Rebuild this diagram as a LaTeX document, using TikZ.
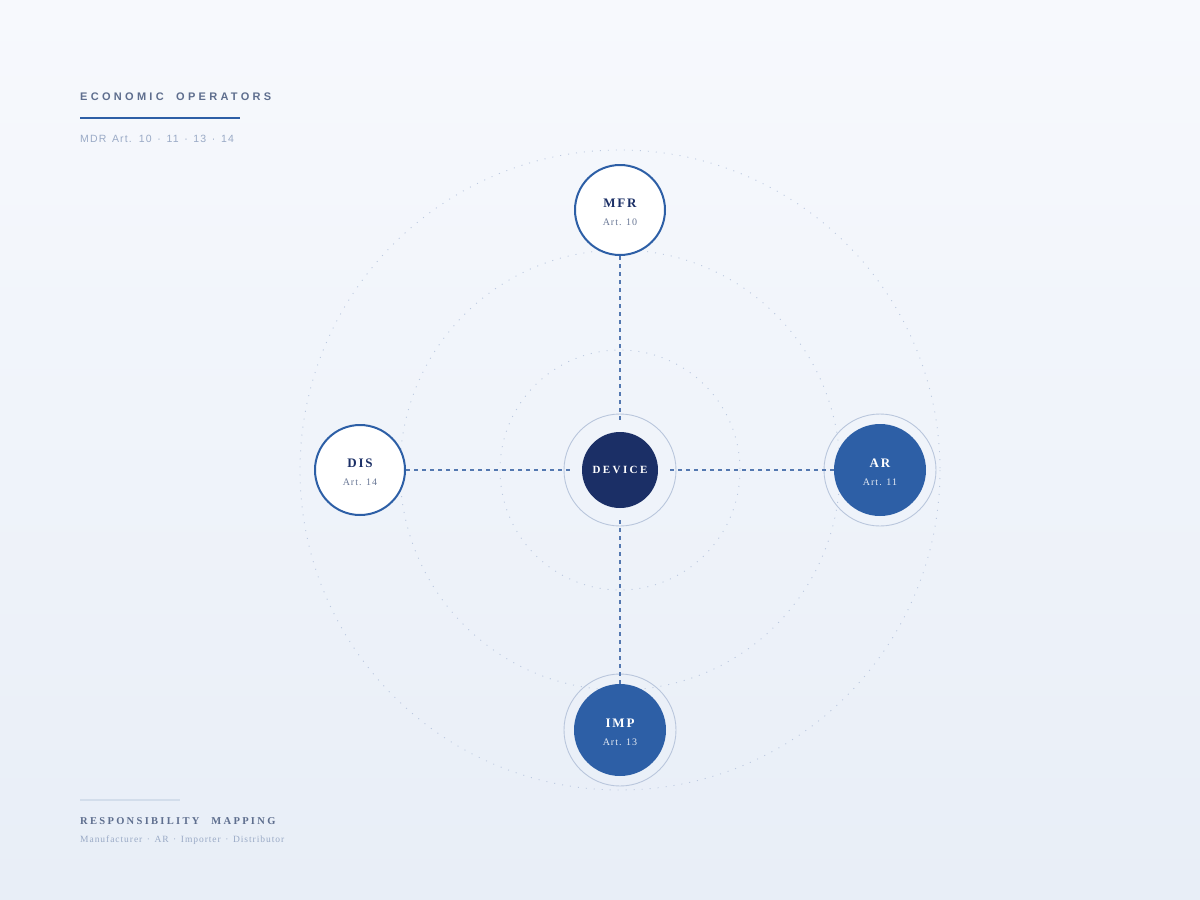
\documentclass[tikz,border=0pt]{standalone}
\usepackage{fontspec}
\setmainfont{Liberation Serif}
\newfontfamily\titlesans[LetterSpace=30]{Liberation Sans}
\newfontfamily\subsans[LetterSpace=11]{Liberation Sans}
\newfontfamily\spacedserif[LetterSpace=22]{Liberation Serif}
\newfontfamily\lightserif[LetterSpace=10]{Liberation Serif}
\newfontfamily\nodeserif[LetterSpace=14]{Liberation Serif}
\newcommand\subgap{\hspace{1.6pt}}
\newcommand\footgap{\hspace{1.2pt}}
\definecolor{bgtop}{HTML}{F7F9FD}
\definecolor{bgbot}{HTML}{E8EEF7}
\definecolor{navy}{HTML}{1B2F66}
\definecolor{blue}{HTML}{2D5FA6}
\definecolor{titlegray}{HTML}{5E6E8E}
\definecolor{subgray}{HTML}{9AAAC6}
\definecolor{ringc}{HTML}{BCC9E0}
\definecolor{haloc}{HTML}{B9C6DC}
\definecolor{dashc}{HTML}{5478B0}
\definecolor{rulec}{HTML}{D3DDEB}
\definecolor{artgray}{HTML}{6A7896}
\tikzset{
  ring/.style={draw=ringc, line width=0.9pt, dash pattern=on 1pt off 7pt},
  halo/.style={circle, draw=haloc, line width=0.9pt, minimum size=112pt, inner sep=0pt},
  opennode/.style={circle, draw=blue, line width=2pt, fill=white, minimum size=90pt, inner sep=0pt},
  fillnode/.style={circle, fill=blue, minimum size=92pt, inner sep=0pt},
  devnode/.style={circle, fill=navy, minimum size=76pt, inner sep=0pt},
  link/.style={draw=dashc, line width=1.5pt, dash pattern=on 4pt off 4pt},
  lbl/.style={font=\nodeserif\bfseries\fontsize{13}{13}\selectfont, inner sep=0pt, anchor=base},
  art/.style={font=\lightserif\fontsize{10}{10}\selectfont, inner sep=0pt, anchor=base},
}
\begin{document}
\begin{tikzpicture}[x=1pt,y=-1pt]
\useasboundingbox (0,0) rectangle (1200,900);
\shade[top color=bgtop, bottom color=bgbot] (0,0) rectangle (1200,900);
% rings
\draw[ring] (620,470) circle[radius=120];
\draw[ring] (620,470) circle[radius=220];
\draw[ring] (620,470) circle[radius=320];
% halos
\node[halo] (devhalo) at (620,470) {};
\node[halo] (arhalo) at (880,470) {};
\node[halo] (imphalo) at (620,730) {};
% centre coordinates for link ends
\coordinate (ctop) at (620,422);
\coordinate (cbot) at (620,518);
\coordinate (cleft) at (572,470);
\coordinate (cright) at (668,470);
% nodes
\node[opennode] (mfr) at (620,210) {};
\node[opennode] (dis) at (360,470) {};
\node[fillnode] (ar) at (880,470) {};
\node[fillnode] (imp) at (620,730) {};
% links
\draw[link] (mfr.south) -- (ctop);
\draw[link] (imp.north) -- (cbot);
\draw[link] (dis.east) -- (cleft);
\draw[link] (ar.west) -- (cright);
\node[devnode] (dev) at (620,470) {};
% labels
\node[lbl, text=navy] (mfrl) at (620,207) {MFR};
\node[art, text=artgray] (mfra) at (620,225) {Art. 10};
\node[lbl, text=navy] (disl) at (360,467) {DIS};
\node[art, text=artgray] (disa) at (360,485) {Art. 14};
\node[lbl, text=white] (arl) at (880,467) {AR};
\node[art, text=white!88!blue] (ara) at (880,485) {Art. 11};
\node[lbl, text=white] (impl) at (620,727) {IMP};
\node[art, text=white!88!blue] (impa) at (620,745) {Art. 13};
\node[font=\spacedserif\bfseries\fontsize{11}{11}\selectfont, text=white, inner sep=0pt, anchor=base] (devl) at (620,473) {DEVICE};
% header
\node[font=\titlesans\bfseries\fontsize{11}{11}\selectfont, text=titlegray, anchor=base west, inner sep=0pt] (title) at (80,100) {ECONOMIC \hspace{6pt}OPERATORS};
\draw[draw=blue, line width=2pt] (80,118) -- (240,118);
\node[font=\subsans\fontsize{10.5}{10.5}\selectfont, text=subgray, anchor=base west, inner sep=0pt] (sub) at (80,142) {MDR \subgap Art. \subgap 10 \subgap · \subgap 11 \subgap · \subgap 13 \subgap · \subgap 14};
% footer
\draw[draw=rulec, line width=2pt] (80,800) -- (180,800);
\node[font=\spacedserif\bfseries\fontsize{10.5}{10.5}\selectfont, text=titlegray, anchor=base west, inner sep=0pt] (foot) at (80,824) {RESPONSIBILITY \hspace{7pt}MAPPING};
\node[font=\lightserif\fontsize{9.5}{9.5}\selectfont, text=subgray, anchor=base west, inner sep=0pt] (foot2) at (80,842) {Manufacturer \footgap · \footgap AR \footgap · \footgap Importer \footgap · \footgap Distributor};
\end{tikzpicture}
\end{document}
